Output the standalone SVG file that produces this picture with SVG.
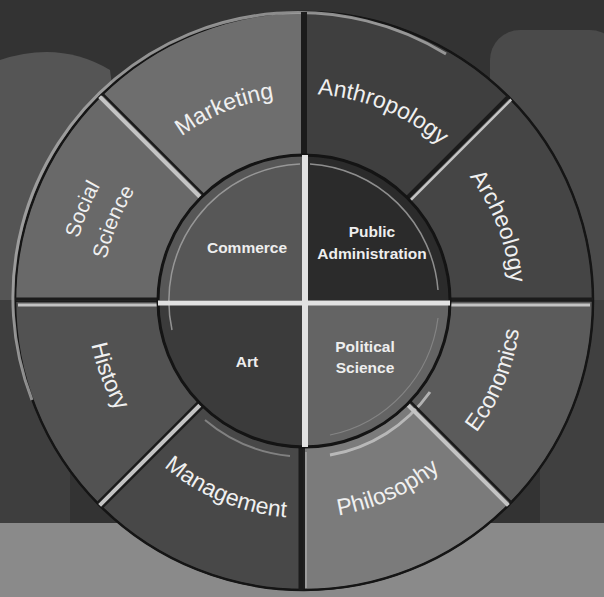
<svg xmlns="http://www.w3.org/2000/svg" xmlns:xlink="http://www.w3.org/1999/xlink" width="604" height="597" viewBox="0 0 604 597">
<style>
.seg{stroke:#1a1a1a;stroke-width:1.5}
.lbl{font-family:"Liberation Sans",Arial,sans-serif;font-size:23px;fill:#f0f0f0}
.sm{font-size:21px}
.in{font-family:"Liberation Sans",Arial,sans-serif;font-size:15.5px;font-weight:bold;fill:#eeeeee;text-anchor:middle}
.dk{stroke:#1b1b1b;stroke-linecap:butt}
.lt{stroke:#c4c4c4;stroke-linecap:butt}
</style>
<defs>
<path id="pMarketing" d="M100.75,274.24 A205,205 0 0 1 428.80,138.36"/>
<path id="pAnthro" d="M177.99,136.78 A207,207 0 0 1 509.23,273.98"/>
<path id="pArch" d="M336.38,96.55 A207,207 0 0 1 464.87,431.27"/>
<path id="pSocial" d="M118.36,443.45 A234,234 0 0 1 273.46,69.00"/>
<path id="pScience" d="M143.80,423.92 A202,202 0 0 1 277.63,100.73"/>
<path id="pEcon" d="M332.33,516.14 A217,217 0 0 0 476.16,168.90"/>
<path id="pPhil" d="M176.45,476.56 A217,217 0 0 0 519.81,323.68"/>
<path id="pMgmt" d="M88.86,329.33 A217,217 0 0 0 436.10,473.16"/>
<path id="pHist" d="M135.36,164.44 A217,217 0 0 0 270.05,515.33"/>
</defs>

<g id="background">
<rect width="604" height="597" fill="#333333"/>
<path d="M0,60 Q60,40 110,70 L140,300 L0,330 Z" fill="#555555"/>
<rect x="490" y="30" width="130" height="290" rx="30" fill="#4a4a4a"/>
<rect x="0" y="300" width="70" height="230" fill="#3e3e3e"/>
<rect x="540" y="300" width="64" height="230" fill="#404040"/>
<rect x="0" y="523" width="604" height="74" fill="#8a8a8a"/>
</g>

<g id="marketing">
<path class="seg" fill="#6e6e6e" d="M99.65,96.65 A289,289 0 0 1 304,12 L304,155 A146,146 0 0 0 200.76,197.76 Z"/>
<text class="lbl"><textPath xlink:href="#pMarketing" href="#pMarketing" startOffset="50%" text-anchor="middle">Marketing</textPath></text>
</g>
<g id="anthropology">
<path class="seg" fill="#3f3f3f" d="M304,12 A289,289 0 0 1 508.35,96.65 L407.24,197.76 A146,146 0 0 0 304,155 Z"/>
<text class="lbl"><textPath xlink:href="#pAnthro" href="#pAnthro" startOffset="50%" text-anchor="middle">Anthropology</textPath></text>
</g>
<g id="archeology">
<path class="seg" fill="#454545" d="M508.35,96.65 A289,289 0 0 1 593,301 L450,301 A146,146 0 0 0 407.24,197.76 Z"/>
<text class="lbl"><textPath xlink:href="#pArch" href="#pArch" startOffset="50%" text-anchor="middle">Archeology</textPath></text>
</g>
<g id="economics">
<path class="seg" fill="#5b5b5b" d="M593,301 A289,289 0 0 1 508.35,505.35 L407.24,404.24 A146,146 0 0 0 450,301 Z"/>
<text class="lbl"><textPath xlink:href="#pEcon" href="#pEcon" startOffset="50%" text-anchor="middle">Economics</textPath></text>
</g>
<g id="philosophy">
<path class="seg" fill="#7b7b7b" d="M508.35,505.35 A289,289 0 0 1 304,590 L304,447 A146,146 0 0 0 407.24,404.24 Z"/>
<text class="lbl"><textPath xlink:href="#pPhil" href="#pPhil" startOffset="50%" text-anchor="middle">Philosophy</textPath></text>
</g>
<g id="management">
<path class="seg" fill="#484848" d="M304,590 A289,289 0 0 1 99.65,505.35 L200.76,404.24 A146,146 0 0 0 304,447 Z"/>
<text class="lbl"><textPath xlink:href="#pMgmt" href="#pMgmt" startOffset="50%" text-anchor="middle">Management</textPath></text>
</g>
<g id="history">
<path class="seg" fill="#525252" d="M99.65,505.35 A289,289 0 0 1 15,301 L158,301 A146,146 0 0 0 200.76,404.24 Z"/>
<text class="lbl"><textPath xlink:href="#pHist" href="#pHist" startOffset="50%" text-anchor="middle">History</textPath></text>
</g>
<g id="social-science">
<path class="seg" fill="#696969" d="M15,301 A289,289 0 0 1 99.65,96.65 L200.76,197.76 A146,146 0 0 0 158,301 Z"/>
<text class="lbl sm"><textPath xlink:href="#pSocial" href="#pSocial" startOffset="50%" text-anchor="middle">Social</textPath></text>
<text class="lbl sm"><textPath xlink:href="#pScience" href="#pScience" startOffset="50%" text-anchor="middle">Science</textPath></text>
</g>

<g id="rims" fill="none">
<circle cx="304" cy="301" r="289" stroke="#151515" stroke-width="2.5"/>
<path d="M32,400 A285,285 0 0 1 446,54" stroke="#b4b4b4" stroke-width="3" opacity="0.75"/>
<path d="M330,455 A155,155 0 0 0 430,392" stroke="#c8c8c8" stroke-width="3" opacity="0.8"/>
<path d="M205,420 A155,155 0 0 0 290,456" stroke="#9a9a9a" stroke-width="2" opacity="0.7"/>
</g>

<g id="dividers">
<line class="dk" x1="304" y1="12" x2="304" y2="155" stroke-width="6"/>
<line class="dk" x1="301" y1="447" x2="301" y2="590" stroke-width="5"/>
<line x1="306" y1="452" x2="306" y2="588" stroke="#9c9c9c" stroke-width="2"/>
<line class="dk" x1="15" y1="299" x2="158" y2="299" stroke-width="3"/>
<line class="lt" x1="18" y1="305" x2="158" y2="305" stroke-width="3"/>
<line class="dk" x1="450" y1="299" x2="593" y2="299" stroke-width="3"/>
<line class="lt" x1="450" y1="305" x2="590" y2="305" stroke-width="3"/>
<line class="lt" x1="99.65" y1="96.65" x2="200.76" y2="197.76" stroke-width="4"/>
<line class="dk" x1="102.5" y1="93.8" x2="203.6" y2="194.9" stroke-width="2.5"/>
<line class="dk" x1="508.35" y1="96.65" x2="407.24" y2="197.76" stroke-width="4"/>
<line class="lt" x1="511.2" y1="99.5" x2="410.1" y2="200.6" stroke-width="2.5"/>
<line class="dk" x1="200.76" y1="404.24" x2="99.65" y2="505.35" stroke-width="9"/>
<line class="lt" x1="200.76" y1="404.24" x2="99.65" y2="505.35" stroke-width="4"/>
<line class="lt" x1="407.24" y1="404.24" x2="508.35" y2="505.35" stroke-width="4"/>
<line class="dk" x1="410.1" y1="401.4" x2="511.2" y2="502.5" stroke-width="2.5"/>
</g>

<g id="commerce">
<path class="seg" fill="#575757" d="M304,301 L158,301 A146,146 0 0 1 304,155 Z"/>
<text class="in" x="247" y="253">Commerce</text>
</g>
<g id="public-administration">
<path class="seg" fill="#2b2b2b" d="M304,301 L304,155 A146,146 0 0 1 450,301 Z"/>
<text class="in" x="372" y="237">Public</text>
<text class="in" x="372" y="259">Administration</text>
</g>
<g id="political-science">
<path class="seg" fill="#646464" d="M304,301 L450,301 A146,146 0 0 1 304,447 Z"/>
<text class="in" x="365" y="352">Political</text>
<text class="in" x="365" y="373">Science</text>
</g>
<g id="art">
<path class="seg" fill="#3b3b3b" d="M304,301 L304,447 A146,146 0 0 1 158,301 Z"/>
<text class="in" x="247" y="367">Art</text>
</g>

<g id="inner-rims" fill="none">
<circle cx="304" cy="301" r="146" stroke="#141414" stroke-width="3"/>
<path d="M172,330 A137,137 0 0 1 300,164" stroke="#a8a8a8" stroke-width="1.5" opacity="0.8"/>
<path d="M310,164 A137,137 0 0 1 438,290" stroke="#a8a8a8" stroke-width="1.5" opacity="0.8"/>
<path d="M438,318 A137,137 0 0 1 330,435" stroke="#999999" stroke-width="1.2" opacity="0.6"/>
<line x1="305" y1="155" x2="305" y2="447" stroke="#e2e2e2" stroke-width="6"/>
<line x1="158" y1="303" x2="450" y2="303" stroke="#e2e2e2" stroke-width="5"/>
</g>
</svg>
